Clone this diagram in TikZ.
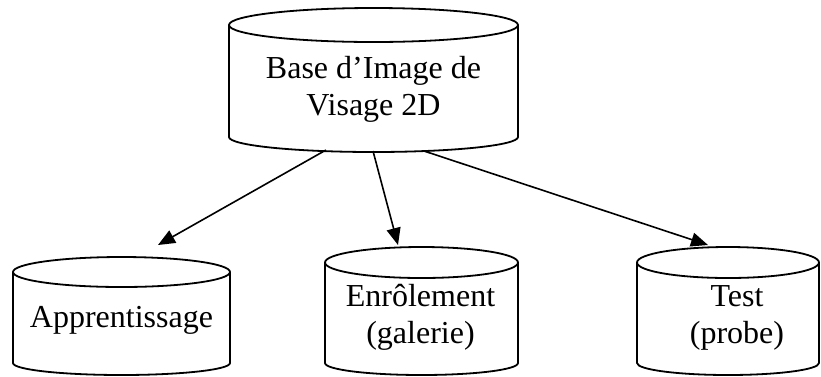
\documentclass[tikz,border=0pt]{standalone}
\usepackage{fontspec}
\setmainfont{Liberation Serif}
\usetikzlibrary{arrows.meta}
\begin{document}
\begin{tikzpicture}[x=1pt,y=-1pt, line width=1.8pt, line join=round,
  lbl/.style={font=\fontsize{32}{37}\selectfont, anchor=base, inner sep=0pt, align=center},
  arr/.style={-{Triangle[length=17pt,width=14pt]}, line width=1.6pt}]
\useasboundingbox (0,0) rectangle (821,376);
% top cylinder
\draw (229,25) -- (229,137) arc[start angle=180,end angle=360,x radius=144.5pt,y radius=15pt] -- (518,25);
\draw (373.5,25) ellipse[x radius=144.5pt,y radius=17pt];
% Apprentissage
\draw (13,272) -- (13,363) arc[start angle=180,end angle=360,x radius=108.5pt,y radius=12pt] -- (230,272);
\draw (121.5,272) ellipse[x radius=108.5pt,y radius=15pt];
% Enrolement
\draw (325,262.5) -- (325,363) arc[start angle=180,end angle=360,x radius=96.5pt,y radius=12pt] -- (518,262.5);
\draw (421.5,262.5) ellipse[x radius=96.5pt,y radius=15.5pt];
% Test
\draw (637,262.5) -- (637,363) arc[start angle=180,end angle=360,x radius=91pt,y radius=12pt] -- (819,262.5);
\draw (728,262.5) ellipse[x radius=91pt,y radius=15.5pt];
% labels
\node[lbl] (base) at (373.5,115) {Base d’Image de\\Visage 2D};
\node[lbl] (app) at (121.5,327) {Apprentissage};
\node[lbl] (enr) at (420.5,343) {Enrôlement\\(galerie)};
\node[lbl] (test) at (737,343) {Test\\(probe)};
% connectors
\coordinate (s1) at (326,150);
\coordinate (e1) at (158,245);
\coordinate (s2) at (373,151);
\coordinate (e2) at (398,245);
\coordinate (s3) at (424,151);
\coordinate (e3) at (708,245);
\draw[arr] (s1) -- (e1);
\draw[arr] (s2) -- (e2);
\draw[arr] (s3) -- (e3);
\end{tikzpicture}
\end{document}
